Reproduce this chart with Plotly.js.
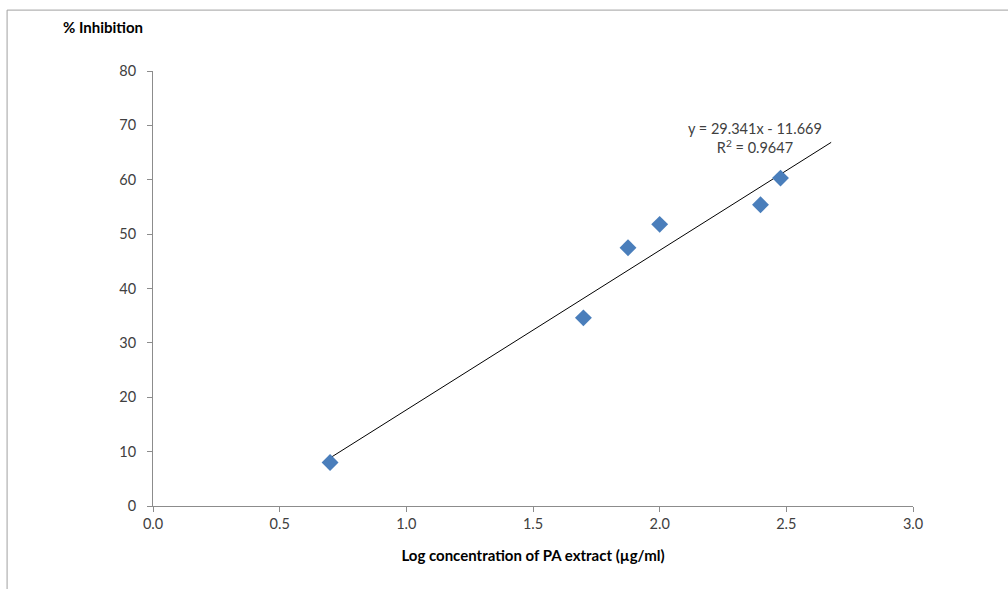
<!DOCTYPE html>
<html>
<head>
<meta charset="utf-8">
<script src="https://cdn.plot.ly/plotly-3.0.1.min.js"></script>
<style>body{margin:0;background:#fff}#chart{width:1008px;height:589px}</style>
</head>
<body>
<div id="chart"></div>
<script>
// Data
const logConc = [0.699, 1.699, 1.875, 2.000, 2.398, 2.477];
const inhibition = [8.0, 34.6, 47.5, 51.8, 55.4, 60.3];
// Trendline (linear, as labelled on chart)
const slope = 29.341;
const intercept = -11.669;
const trendForward = 0.2;
const eqText = "y = 29.341x - 11.669<br>R<sup>2</sup> = 0.9647";
const xTicks = [0, 0.5, 1, 1.5, 2, 2.5, 3];
const xTickText = ["0.0", "0.5", "1.0", "1.5", "2.0", "2.5", "3.0"];
const yTicks = [0, 10, 20, 30, 40, 50, 60, 70, 80];

const xMin = Math.min(...logConc);
const xMax = Math.max(...logConc) + trendForward;
const trendX = [xMin, xMax];
const trendY = trendX.map(x => slope * x + intercept);

const font = "Lato, 'Open Sans', 'Liberation Sans', sans-serif";
const axisColor = "#8c8c8c";

const data = [
  {
    x: trendX, y: trendY, mode: "lines", type: "scatter",
    line: {color: "#000000", width: 1}, hoverinfo: "skip", showlegend: false
  },
  {
    x: logConc, y: inhibition, mode: "markers", type: "scatter",
    marker: {symbol: "diamond", size: 13, color: "#4a7ebb"}, showlegend: false
  }
];

const layout = {
  width: 1008, height: 589,
  margin: {l: 153, r: 95, t: 71, b: 83},
  paper_bgcolor: "#ffffff", plot_bgcolor: "#ffffff",
  font: {family: font, size: 14.5, color: "#404040"},
  showlegend: false,
  xaxis: {
    range: [0, 3], tickvals: xTicks, ticktext: xTickText,
    showgrid: false, zeroline: false, showline: true, linecolor: axisColor, linewidth: 1,
    ticks: "outside", ticklen: 5, tickcolor: axisColor,
    tickfont: {family: font, size: 14.5, color: "#404040"},
    title: {text: "<b>Log concentration of PA extract (µg/ml)</b>", font: {family: font, size: 15, color: "#000"}, standoff: 19}
  },
  yaxis: {
    range: [0, 80], tickvals: yTicks,
    showgrid: false, zeroline: false, showline: true, linecolor: axisColor, linewidth: 1,
    ticks: "outside", ticklen: 5, tickcolor: axisColor, ticklabelstandoff: 8,
    tickfont: {family: font, size: 14.5, color: "#404040"}
  },
  annotations: [
    {
      x: 2.378, y: 67.6, xref: "x", yref: "y", text: eqText, showarrow: false,
      xanchor: "center", yanchor: "middle", align: "center",
      font: {family: font, size: 14.5, color: "#404040"}
    },
    {
      x: -0.121, y: 1.101, xref: "paper", yref: "paper", text: "<b>% Inhibition</b>",
      showarrow: false, xanchor: "left", yanchor: "middle",
      font: {family: font, size: 15, color: "#000"}
    }
  ],
  shapes: [
    {type: "line", xref: "paper", yref: "paper", x0: -0.192, x1: 1.2, y0: 1.140, y1: 1.140, line: {color: "#a0a0a0", width: 1}},
    {type: "line", xref: "paper", yref: "paper", x0: -0.192, x1: -0.192, y0: 1.140, y1: -0.2, line: {color: "#a0a0a0", width: 1}}
  ]
};

Plotly.newPlot("chart", data, layout, {displayModeBar: false, staticPlot: true});
</script>
</body>
</html>
